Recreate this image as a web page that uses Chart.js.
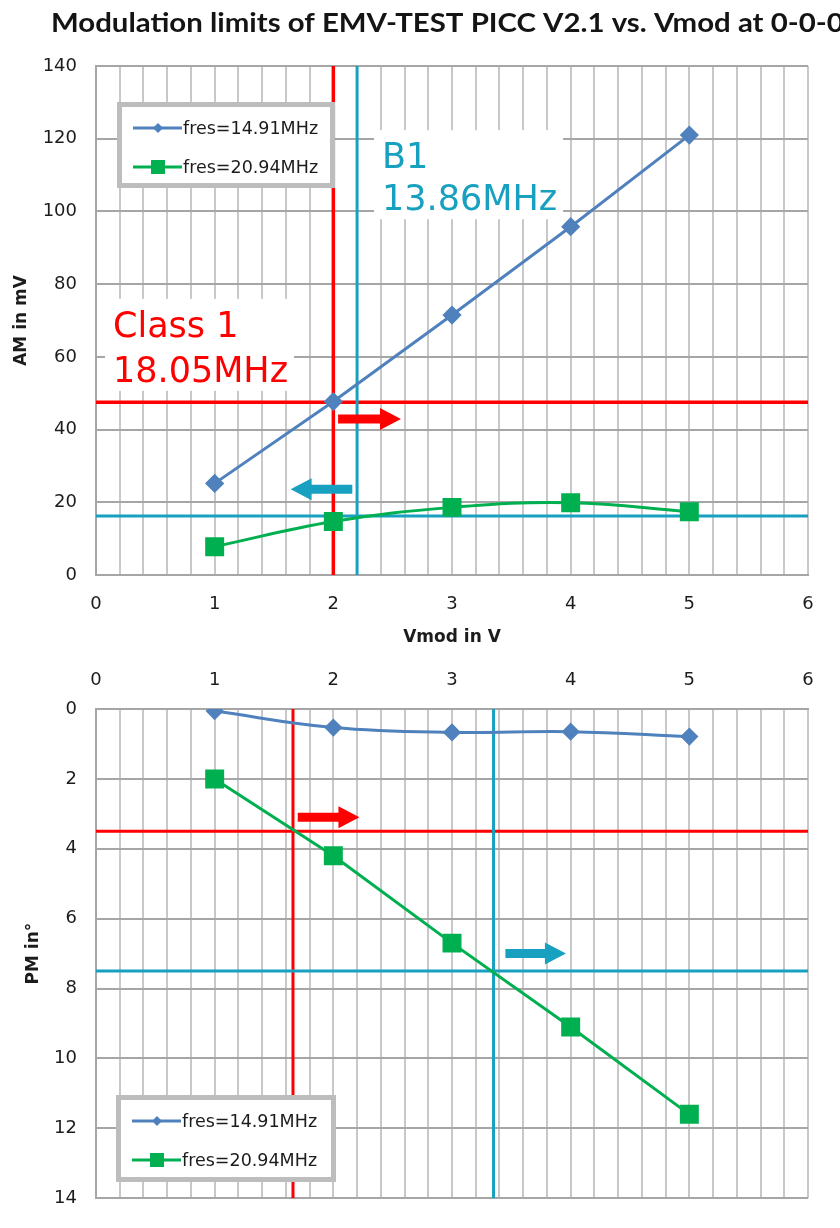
<!DOCTYPE html>
<html>
<head>
<meta charset="utf-8">
<script src="https://cdn.jsdelivr.net/npm/chart.js@4.4.1/dist/chart.umd.min.js"></script>
<style>
  html, body { margin: 0; padding: 0; background: #fff; }
  #wrap { position: relative; width: 840px; height: 1228px; overflow: hidden; }
  canvas { position: absolute; left: 0; }
  #amChart { top: 0; }
  #pmChart { top: 650px; }
</style>
</head>
<body>
<div id="wrap">
  <canvas id="amChart" width="840" height="650"></canvas>
  <canvas id="pmChart" width="840" height="578"></canvas>
</div>
<script>
// --- data ---
const vmod = [1, 2, 3, 4, 5];
const amFres1491 = [25.2, 47.7, 71.5, 95.8, 121.0];
const amFres2094 = [7.8, 14.7, 18.6, 19.9, 17.4];
const pmFres1491 = [0.06, 0.53, 0.67, 0.65, 0.79];
const pmFres2094 = [2.0, 4.2, 6.7, 9.1, 11.6];
const seriesNames = ['fres=14.91MHz', 'fres=20.94MHz'];

const xTickLabels = [0, 1, 2, 3, 4, 5, 6];
const amTickLabels = [0, 20, 40, 60, 80, 100, 120, 140];
const pmTickLabels = [0, 2, 4, 6, 8, 10, 12, 14];

// limit lines: [Vmod, value]
const amClass1Limit = [2.0, 47.5];
const amB1Limit = [2.2, 16.2];
const pmClass1Limit = [1.66, 3.5];
const pmB1Limit = [3.35, 7.5];

const TITLE = 'Modulation limits of EMV-TEST PICC V2.1 vs. Vmod at 0-0-0';

const COL = {
  blue: '#4f81bd',
  green: '#00b050',
  red: '#ff0000',
  cyan: '#17a0bf',
  gridMinor: '#c8c8c8',
  gridMajor: '#a6a6a6',
  text: '#1c1c1c'
};

Chart.defaults.font.family = "'DejaVu Sans', sans-serif";
Chart.defaults.color = COL.text;

// plugin: limit lines, label boxes, arrows, inner legend, title
const overlayPlugin = {
  id: 'overlay',
  beforeDatasetsDraw(chart, args, opts) {
    const ctx = chart.ctx;
    const a = chart.chartArea;
    const xs = chart.scales.x, ys = chart.scales.y;
    ctx.save();
    ctx.beginPath();
    ctx.rect(a.left, a.top, a.right - a.left, a.bottom - a.top);
    ctx.clip();

    // white boxes behind the labels (they cover the grid)
    (opts.labels || []).forEach(l => {
      ctx.font = l.font;
      const x = xs.getPixelForValue(l.x);
      const y = ys.getPixelForValue(l.y);
      const w = Math.max(...l.lines.map(t => ctx.measureText(t).width));
      const h = (l.lines.length - 1) * l.gap;
      ctx.fillStyle = '#fff';
      ctx.fillRect(x - 8, y - 38, w + 14, h + 38 + 9);
    });

    // limit lines
    (opts.limits || []).forEach(m => {
      ctx.strokeStyle = m.color;
      ctx.lineWidth = m.width;
      const px = xs.getPixelForValue(m.at[0]);
      const py = ys.getPixelForValue(m.at[1]);
      ctx.beginPath();
      ctx.moveTo(px, a.top); ctx.lineTo(px, a.bottom);
      ctx.moveTo(a.left, py); ctx.lineTo(a.right, py);
      ctx.stroke();
    });

    // label text
    (opts.labels || []).forEach(l => {
      ctx.font = l.font;
      ctx.fillStyle = l.color;
      ctx.textBaseline = 'alphabetic';
      ctx.textAlign = 'left';
      const x = xs.getPixelForValue(l.x);
      const y = ys.getPixelForValue(l.y);
      l.lines.forEach((t, i) => ctx.fillText(t, x, y + i * l.gap));
    });

    // block arrows
    (opts.arrows || []).forEach(ar => {
      const x0 = xs.getPixelForValue(ar.from);
      const x1 = xs.getPixelForValue(ar.to);
      const y = ys.getPixelForValue(ar.y);
      const d = Math.sign(x1 - x0);
      const head = 21, hh = 11, sh = 4.5;
      const xb = x1 - d * head;
      ctx.fillStyle = ar.color;
      ctx.beginPath();
      ctx.moveTo(x0, y - sh);
      ctx.lineTo(xb, y - sh);
      ctx.lineTo(xb, y - hh);
      ctx.lineTo(x1, y);
      ctx.lineTo(xb, y + hh);
      ctx.lineTo(xb, y + sh);
      ctx.lineTo(x0, y + sh);
      ctx.closePath();
      ctx.fill();
    });
    ctx.restore();
  },
  afterDatasetsDraw(chart, args, opts) {
    const lg = opts.legend;
    if (!lg) return;
    const ctx = chart.ctx;
    const a = chart.chartArea;
    const left = a.left + lg.dx, top = a.top + lg.dy;
    ctx.save();
    ctx.fillStyle = '#fff';
    ctx.fillRect(left, top, lg.w, lg.h);
    ctx.strokeStyle = '#bdbdbd';
    ctx.lineWidth = 5;
    ctx.strokeRect(left + 2.5, top + 2.5, lg.w - 5, lg.h - 5);

    chart.data.datasets.forEach((ds, i) => {
      const y = top + 26 + i * 39;
      ctx.strokeStyle = ds.borderColor;
      ctx.lineWidth = 3;
      ctx.beginPath();
      ctx.moveTo(left + 16, y);
      ctx.lineTo(left + 65, y);
      ctx.stroke();
      ctx.fillStyle = ds.borderColor;
      const cx = left + 41;
      if (ds.pointStyle === 'rectRot') {
        ctx.beginPath();
        ctx.moveTo(cx, y - 5); ctx.lineTo(cx + 5, y);
        ctx.lineTo(cx, y + 5); ctx.lineTo(cx - 5, y);
        ctx.closePath();
        ctx.fill();
      } else {
        ctx.fillRect(cx - 7, y - 7, 14, 14);
      }
      ctx.fillStyle = COL.text;
      ctx.font = "17.5px 'DejaVu Sans'";
      ctx.textBaseline = 'middle';
      ctx.textAlign = 'left';
      ctx.fillText(ds.label, left + 66, y + 1);
    });
    ctx.restore();
  },
  afterDraw(chart, args, opts) {
    if (!opts.title) return;
    const ctx = chart.ctx;
    ctx.save();
    ctx.font = "bold 26px Lato";
    ctx.fillStyle = '#141414';
    ctx.textBaseline = 'alphabetic';
    ctx.translate(51, 32);
    ctx.scale(1.13, 1);
    ctx.fillText(opts.title, 0, 0);
    ctx.restore();
  }
};

function makeSeries(ys) {
  return vmod.map((v, i) => ({ x: v, y: ys[i] }));
}

function xAxis(position, pad, fitHeight, title) {
  return {
    type: 'linear',
    position: position,
    min: xTickLabels[0],
    max: xTickLabels[xTickLabels.length - 1],
    ticks: {
      stepSize: 0.2,
      autoSkip: false,
      maxRotation: 0,
      padding: pad,
      color: COL.text,
      font: { size: 18 },
      callback: v => {
        const r = Math.round(v * 1000) / 1000;
        return xTickLabels.includes(r) ? String(r) : '';
      }
    },
    grid: { color: COL.gridMinor, lineWidth: 2, drawTicks: false },
    border: { color: COL.gridMajor, width: 2 },
    title: title ? {
      display: true, text: title, color: COL.text,
      font: { size: 17, weight: 'bold' }, padding: { top: 0, bottom: 2 }
    } : { display: false },
    afterFit: s => { s.height = fitHeight; }
  };
}

function yAxis(labels, reverse, title, titlePad) {
  return {
    type: 'linear',
    reverse: reverse,
    min: labels[0],
    max: labels[labels.length - 1],
    ticks: {
      stepSize: labels[1] - labels[0],
      padding: 19,
      color: COL.text,
      font: { size: 18 }
    },
    grid: { color: COL.gridMajor, lineWidth: 2, drawTicks: false },
    border: { color: COL.gridMajor, width: 2 },
    title: {
      display: true, text: title, color: COL.text,
      font: { size: 17, weight: 'bold' }, padding: { top: titlePad, bottom: 0 }
    },
    afterFit: s => { s.width = 96; }
  };
}

// === chart 1: AM ===
new Chart(document.getElementById('amChart'), {
  type: 'line',
  data: {
    datasets: [{
      label: seriesNames[0],
      data: makeSeries(amFres1491),
      borderColor: COL.blue,
      backgroundColor: COL.blue,
      borderWidth: 3,
      pointStyle: 'rectRot',
      pointRadius: 7.5,
      tension: 0
    }, {
      label: seriesNames[1],
      data: makeSeries(amFres2094),
      borderColor: COL.green,
      backgroundColor: COL.green,
      borderWidth: 3,
      pointStyle: 'rect',
      pointRadius: 11.3,
      tension: 0.4
    }]
  },
  options: {
    responsive: false,
    animation: false,
    devicePixelRatio: 1,
    layout: { padding: { top: 66, right: 32, bottom: 0, left: 0 } },
    scales: {
      x: xAxis('bottom', 19, 75, 'Vmod in V'),
      y: yAxis(amTickLabels, false, 'AM in mV', 11)
    },
    plugins: {
      legend: { display: false },
      tooltip: { enabled: false },
      overlay: {
        title: TITLE,
        limits: [
          { at: amClass1Limit, color: COL.red, width: 3.5 },
          { at: amB1Limit, color: COL.cyan, width: 3 }
        ],
        labels: [
          { lines: ['Class 1', '18.05MHz'], x: 0.143, y: 65.5, gap: 45, color: COL.red, font: "35px 'DejaVu Sans'" },
          { lines: ['B1', '13.86MHz'], x: 2.41, y: 111.9, gap: 42, color: COL.cyan, font: "35px 'DejaVu Sans'" }
        ],
        arrows: [
          { from: 2.04, to: 2.57, y: 42.9, color: COL.red },
          { from: 2.16, to: 1.64, y: 23.6, color: COL.cyan }
        ],
        legend: { dx: 21, dy: 36, w: 218, h: 86 }
      }
    }
  },
  plugins: [overlayPlugin]
});

// === chart 2: PM ===
new Chart(document.getElementById('pmChart'), {
  type: 'line',
  data: {
    datasets: [{
      label: seriesNames[0],
      data: makeSeries(pmFres1491),
      borderColor: COL.blue,
      backgroundColor: COL.blue,
      borderWidth: 3,
      pointStyle: 'rectRot',
      pointRadius: 7,
      tension: 0.4
    }, {
      label: seriesNames[1],
      data: makeSeries(pmFres2094),
      borderColor: COL.green,
      backgroundColor: COL.green,
      borderWidth: 3,
      pointStyle: 'rect',
      pointRadius: 11.3,
      tension: 0
    }]
  },
  options: {
    responsive: false,
    animation: false,
    devicePixelRatio: 1,
    layout: { padding: { top: 0, right: 32, bottom: 11, left: 0 } },
    scales: {
      x: xAxis('top', 18, 59, null),
      y: yAxis(pmTickLabels, true, 'PM in°', 23)
    },
    plugins: {
      legend: { display: false },
      tooltip: { enabled: false },
      overlay: {
        limits: [
          { at: pmClass1Limit, color: COL.red, width: 3 },
          { at: pmB1Limit, color: COL.cyan, width: 3 }
        ],
        arrows: [
          { from: 1.70, to: 2.22, y: 3.1, color: COL.red },
          { from: 3.45, to: 3.96, y: 7.0, color: COL.cyan }
        ],
        legend: { dx: 20, dy: 386, w: 220, h: 87 }
      }
    }
  },
  plugins: [overlayPlugin]
});
</script>
</body>
</html>
